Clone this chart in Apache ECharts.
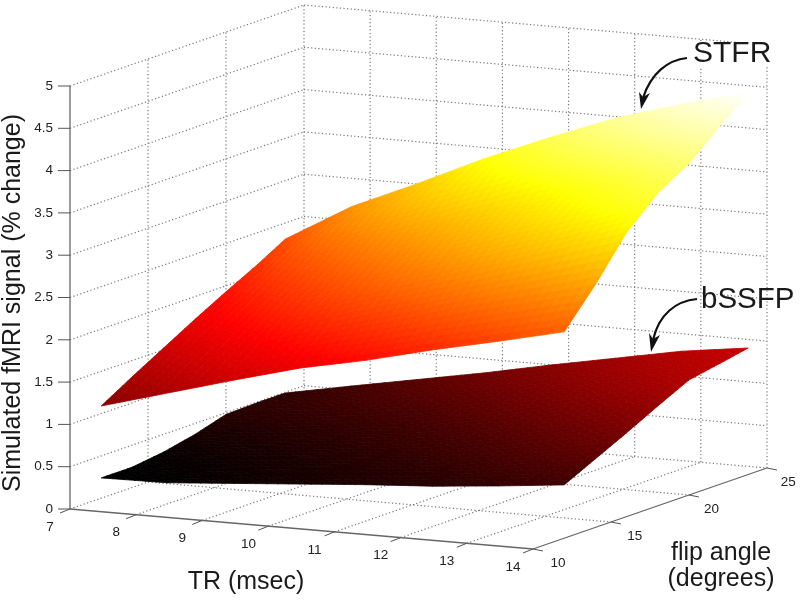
<!DOCTYPE html>
<html><head><meta charset="utf-8">
<style>html,body{margin:0;padding:0;background:#fff}#c{width:800px;height:602px}</style>
<script src="https://cdn.jsdelivr.net/npm/echarts@6/dist/echarts.min.js"></script>
</head><body><div id="c"></div>
<script>
// ---- data ----
const trValues = [7, 8, 9, 10, 11, 12, 13, 14];
const flipValues = [12, 14, 16, 18, 20, 22, 23.8];
const stfrSignal = [
  [1.09, 1.31, 1.53, 1.74, 1.90, 2.09, 2.26, 2.44],
  [1.31, 1.56, 1.81, 2.04, 2.25, 2.48, 2.67, 2.87],
  [1.52, 1.81, 2.09, 2.35, 2.60, 2.85, 3.10, 3.36],
  [1.73, 2.05, 2.35, 2.63, 2.90, 3.17, 3.44, 3.70],
  [1.93, 2.30, 2.62, 2.91, 3.18, 3.44, 3.68, 3.92],
  [2.12, 2.58, 2.93, 3.25, 3.55, 3.82, 4.07, 4.24],
  [2.31, 2.76, 3.10, 3.46, 3.78, 4.08, 4.31, 4.51]
];
const bssfpSignal = [
  [0.24, 0.25, 0.31, 0.37, 0.43, 0.48, 0.55, 0.63],
  [0.24, 0.29, 0.35, 0.42, 0.49, 0.57, 0.69, 0.81],
  [0.29, 0.35, 0.42, 0.50, 0.58, 0.70, 0.84, 0.99],
  [0.37, 0.42, 0.50, 0.58, 0.70, 0.85, 1.01, 1.18],
  [0.48, 0.52, 0.60, 0.70, 0.85, 1.02, 1.19, 1.36],
  [0.49, 0.60, 0.72, 0.85, 1.00, 1.16, 1.31, 1.43],
  [0.49, 0.64, 0.785, 0.93, 1.09, 1.24, 1.39, 1.495]
];
const trTicks = [7, 8, 9, 10, 11, 12, 13, 14];
const flipTicks = [10, 15, 20, 25];
const signalTicks = [0, 0.5, 1, 1.5, 2, 2.5, 3, 3.5, 4, 4.5, 5];

// ---- view of the 3D box (orthographic, as in the figure) ----
const view = {ox: 70, oy: 509, trX: 66.14, trY: 5.714, flipX: 15.6, flipY: -5.4, sigY: -84.6};
const project = (tr, f, s) => [
  view.ox + view.trX * (tr - 7) + view.flipX * (f - 10),
  view.oy + view.trY * (tr - 7) + view.flipY * (f - 10) + view.sigY * s
];
const cMin = 0.24, cMax = 4.51;
function hot(v) {
  const t = Math.max(0, Math.min(1, (v - cMin) / (cMax - cMin)));
  const r = Math.min(1, t / 0.375), g = Math.max(0, Math.min(1, (t - 0.375) / 0.375)), b = Math.max(0, (t - 0.75) / 0.25);
  return 'rgb(' + Math.round(r * 255) + ',' + Math.round(g * 255) + ',' + Math.round(b * 255) + ')';
}

// grid lines: [tr0, f0, s0, tr1, f1, s1]
const wallLines = [];
signalTicks.forEach(s => {
  wallLines.push([7, 10, s, 7, 25, s]);
  wallLines.push([7, 25, s, 14, 25, s]);
});
flipTicks.slice(1).forEach(f => {
  wallLines.push([7, f, 0, 7, f, 5]);
  if (f < 25) wallLines.push([7, f, 0, 14, f, 0]);
});
trTicks.slice(1).forEach(t => {
  wallLines.push([t, 25, 0, t, 25, 5]);
  if (t < 14) wallLines.push([t, 10, 0, t, 25, 0]);
});
const axisLines = [
  [7, 10, 0, 7, 10, 5], [7, 10, 0, 14, 10, 0], [14, 10, 0, 14, 25, 0]
];

const cells = [];
for (let i = 0; i < flipValues.length - 1; i++) for (let j = 0; j < trValues.length - 1; j++) cells.push([i, j]);
const SUB = 6;

function surfaceSeries(matrix) {
  return {
    type: 'custom', coordinateSystem: 'cartesian2d', silent: true, clip: false, z: 3,
    data: cells.slice().reverse(),
    encode: {x: 0, y: 1},
    renderItem(params, api) {
      const i = api.value(0), j = api.value(1);
      const f0 = flipValues[i], f1 = flipValues[i + 1], t0 = trValues[j], t1 = trValues[j + 1];
      const a = matrix[i][j], b = matrix[i][j + 1], c = matrix[i + 1][j], d = matrix[i + 1][j + 1];
      const at = (u, v) => {
        const s = (a * (1 - u) + b * u) * (1 - v) + (c * (1 - u) + d * u) * v;
        return {s, p: api.coord(project(t0 + (t1 - t0) * u, f0 + (f1 - f0) * v, s))};
      };
      const children = [];
      for (let m = SUB - 1; m >= 0; m--) for (let n = 0; n < SUB; n++) {
        const p00 = at(n / SUB, m / SUB), p10 = at((n + 1) / SUB, m / SUB),
              p11 = at((n + 1) / SUB, (m + 1) / SUB), p01 = at(n / SUB, (m + 1) / SUB);
        const col = hot((p00.s + p10.s + p11.s + p01.s) / 4);
        children.push({type: 'polygon', shape: {points: [p00.p, p10.p, p11.p, p01.p]},
          style: {fill: col, stroke: col, lineWidth: 0.8}});
      }
      return {type: 'group', children};
    }
  };
}
function lineSeries(lines, style, z) {
  return {
    type: 'custom', coordinateSystem: 'cartesian2d', silent: true, clip: false, z,
    data: lines, encode: {x: 0, y: 1},
    renderItem(params, api) {
      const p = api.coord(project(api.value(0), api.value(1), api.value(2)));
      const q = api.coord(project(api.value(3), api.value(4), api.value(5)));
      return {type: 'line', shape: {x1: p[0], y1: p[1], x2: q[0], y2: q[1]}, style};
    }
  };
}
const tickColor = '#555';
const labelStyle = {fontFamily: 'Liberation Sans', fontSize: 13.5, fill: '#222', fontWeight: 'normal'};
function labelSeries(values, toPoint) {
  return {
    type: 'custom', coordinateSystem: 'cartesian2d', silent: true, clip: false, z: 6,
    data: values.map(v => [v]), encode: {x: 0},
    renderItem(params, api) {
      const v = api.value(0), o = toPoint(v);
      const p = api.coord(o.p);
      return {type: 'text', x: p[0] + o.dx, y: p[1] + o.dy,
        style: Object.assign({}, labelStyle, {text: String(v), align: o.align || 'center', verticalAlign: 'middle'})};
    }
  };
}
function segSeries(values, toSeg) {
  return {
    type: 'custom', coordinateSystem: 'cartesian2d', silent: true, clip: false, z: 6,
    data: values.map(v => [v]), encode: {x: 0},
    renderItem(params, api) {
      const s = toSeg(api.value(0));
      const p = api.coord(s[0]);
      return {type: 'line', shape: {x1: p[0], y1: p[1], x2: p[0] + s[1], y2: p[1] + s[2]},
        style: {stroke: tickColor, lineWidth: 1}};
    }
  };
}

const chart = echarts.init(document.getElementById('c'), null, {renderer: 'canvas'});
chart.setOption({
  animation: false,
  backgroundColor: '#fff',
  grid: {left: 0, right: 0, top: 0, bottom: 0},
  xAxis: {type: 'value', min: 0, max: 800, show: false},
  yAxis: {type: 'value', min: 0, max: 602, inverse: true, show: false},
  series: [
    lineSeries(wallLines, {stroke: '#777', lineWidth: 1.2, lineDash: [1.2, 2.4]}, 1),
    lineSeries(axisLines, {stroke: '#666', lineWidth: 1.3}, 2),
    surfaceSeries(bssfpSignal),
    surfaceSeries(stfrSignal),
    segSeries(signalTicks, s => [project(7, 10, s), -12, 0]),
    segSeries(trTicks, t => [project(t, 10, 0), -10, 4]),
    segSeries(flipTicks, f => [project(14, f, 0), 10, 2]),
    labelSeries(signalTicks, s => ({p: project(7, 10, s), dx: -17, dy: 0, align: 'right'})),
    labelSeries(trTicks, t => ({p: project(t, 10, 0), dx: -20, dy: 18})),
    labelSeries(flipTicks, f => ({p: project(14, f, 0), dx: 25 - (f - 10) * 0.25, dy: 14}))
  ],
  graphic: {elements: [
    {type: 'rect', z: 20, shape: {x: 686, y: 43, width: 90, height: 24}, style: {fill: '#fff'}},
    {type: 'text', z: 21, x: 693, y: 54, style: {text: 'STFR', fontFamily: 'Liberation Sans', fontSize: 30, fill: '#1a1a1a', verticalAlign: 'middle'}},
    {type: 'text', z: 21, x: 701, y: 300, style: {text: 'bSSFP', fontFamily: 'Liberation Sans', fontSize: 29.5, fill: '#1a1a1a', verticalAlign: 'middle'}},
    {type: 'text', z: 21, x: 246, y: 582, style: {text: 'TR (msec)', fontFamily: 'Liberation Sans', fontSize: 25, fill: '#1a1a1a', align: 'center', verticalAlign: 'middle'}},
    {type: 'text', z: 21, x: 721, y: 553, style: {text: 'flip angle', fontFamily: 'Liberation Sans', fontSize: 25, fill: '#1a1a1a', align: 'center', verticalAlign: 'middle'}},
    {type: 'text', z: 21, x: 721, y: 579, style: {text: '(degrees)', fontFamily: 'Liberation Sans', fontSize: 25, fill: '#1a1a1a', align: 'center', verticalAlign: 'middle'}},
    {type: 'text', z: 21, x: 13, y: 303, rotation: Math.PI / 2, style: {text: 'Simulated fMRI signal (% change)', fontFamily: 'Liberation Sans', fontSize: 25, fill: '#1a1a1a', align: 'center', verticalAlign: 'middle'}},
    {type: 'bezierCurve', z: 21, shape: {x1: 687, y1: 58, cpx1: 668, cpy1: 60, cpx2: 651, cpy2: 73, x2: 643, y2: 98}, style: {stroke: '#111', lineWidth: 2.2, fill: 'none'}},
    {type: 'polygon', z: 21, shape: {points: [[641, 109], [639, 92], [643, 97], [650, 93]]}, style: {fill: '#111'}},
    {type: 'bezierCurve', z: 21, shape: {x1: 697, y1: 299, cpx1: 676, cpy1: 301, cpx2: 659, cpy2: 314, x2: 653, y2: 340}, style: {stroke: '#111', lineWidth: 2.2, fill: 'none'}},
    {type: 'polygon', z: 21, shape: {points: [[651, 352], [649, 333], [653, 339], [660, 335]]}, style: {fill: '#111'}}
  ]}
});
</script></body></html>
